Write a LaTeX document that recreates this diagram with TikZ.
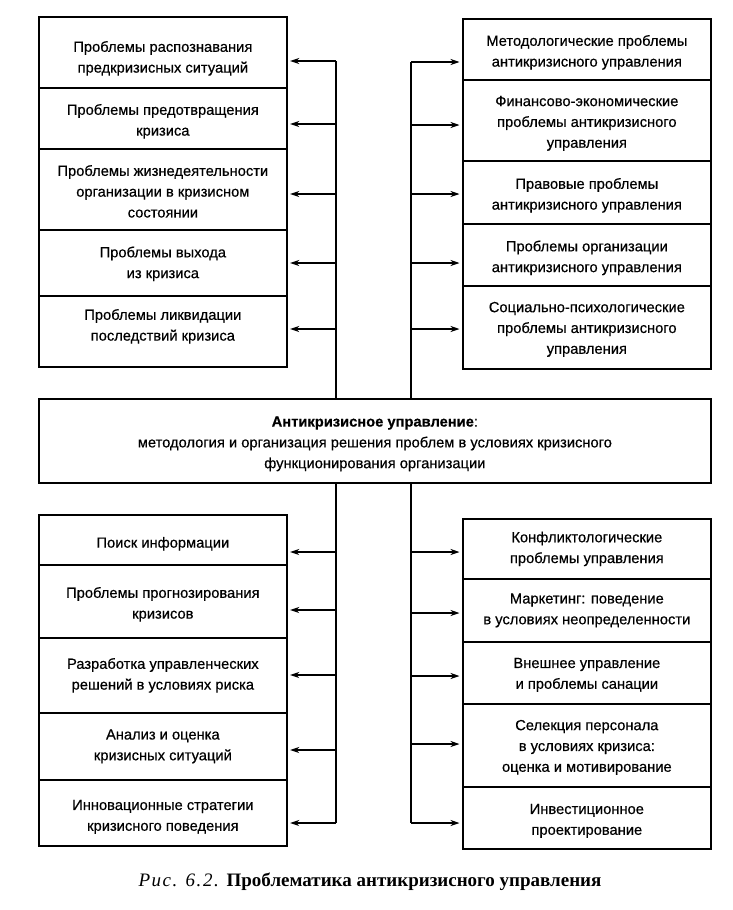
\documentclass[tikz,border=0pt]{standalone}
\usepackage{fontspec}
\setmainfont{Liberation Sans}[FakeBold=0.5]
\newfontfamily\capfont{Liberation Serif}
\newfontfamily\capit{Liberation Serif Italic}[LetterSpace=8]
\usetikzlibrary{arrows.meta}
\newcommand\bx[6]{%
  \node[box, minimum width=#3, minimum height=#4] (#1) at (#2) {};
  \node[txt, yshift=#5] (#1t) at (#1.center) {#6};}
\begin{document}
\begin{tikzpicture}[x=1pt,y=-1pt,
  box/.style={draw, line width=1.7pt, inner sep=0pt, anchor=north west},
  txt/.style={align=center, inner sep=0pt, font=\fontsize{14.7}{20.8}\selectfont},
  conn/.style={line width=1.2pt},
  arr/.style={line width=1.2pt, -{Stealth[length=9pt,width=6pt]}, shorten >=2.5pt}]
\useasboundingbox (0,0) rectangle (733,910);
% top left column
\bx{L1}{38,16}{248pt}{71pt}{-6pt}{Проблемы распознавания\\предкризисных ситуаций}
\bx{L2}{38,87}{248pt}{61pt}{-3pt}{Проблемы предотвращения\\кризиса}
\bx{L3}{38,148}{248pt}{81pt}{-2pt}{Проблемы жизнедеятельности\\организации в кризисном\\состоянии}
\bx{L4}{38,229}{248pt}{66pt}{-1pt}{Проблемы выхода\\из кризиса}
\bx{L5}{38,295}{248pt}{71pt}{5pt}{Проблемы ликвидации\\последствий кризиса}
% top right column
\bx{R1}{462,18}{248pt}{61pt}{-3pt}{Методологические проблемы\\антикризисного управления}
\bx{R2}{462,79}{248pt}{81pt}{-3pt}{Финансово-экономические\\проблемы антикризисного\\управления}
\bx{R3}{462,160}{248pt}{63pt}{-3pt}{Правовые проблемы\\антикризисного управления}
\bx{R4}{462,223}{248pt}{62pt}{-3pt}{Проблемы организации\\антикризисного управления}
\bx{R5}{462,285}{248pt}{83pt}{-2pt}{Социально-психологические\\проблемы антикризисного\\управления}
% centre
\bx{C}{38,398}{672pt}{84pt}{-3pt}{\textbf{Антикризисное управление}:\\методология и организация решения проблем в условиях кризисного\\функционирования организации}
% bottom left column
\bx{LB1}{38,514}{248pt}{50pt}{-4pt}{Поиск информации}
\bx{LB2}{38,564}{248pt}{73pt}{-3pt}{Проблемы прогнозирования\\кризисов}
\bx{LB3}{38,637}{248pt}{75pt}{0pt}{Разработка управленческих\\решений в условиях риска}
\bx{LB4}{38,712}{248pt}{67pt}{0pt}{Анализ и оценка\\кризисных ситуаций}
\bx{LB5}{38,779}{248pt}{66pt}{-4pt}{Инновационные стратегии\\кризисного поведения}
% bottom right column
\bx{RB1}{462,518}{248pt}{60pt}{0pt}{Конфликтологические\\проблемы управления}
\bx{RB2}{462,578}{248pt}{63pt}{0pt}{Маркетинг: поведение\\в условиях неопределенности}
\bx{RB3}{462,641}{248pt}{62pt}{-2pt}{Внешнее управление\\и проблемы санации}
\bx{RB4}{462,703}{248pt}{83pt}{-2pt}{Селекция персонала\\в условиях кризиса:\\оценка и мотивирование}
\bx{RB5}{462,786}{248pt}{62pt}{-3pt}{Инвестиционное\\проектирование}
% trunk points
\coordinate (a1) at (336,61);  \coordinate (a2) at (336,124); \coordinate (a3) at (336,194);
\coordinate (a4) at (336,263); \coordinate (a5) at (336,329);
\coordinate (b1) at (411,62);  \coordinate (b2) at (411,125); \coordinate (b3) at (411,194);
\coordinate (b4) at (411,263); \coordinate (b5) at (411,329);
\coordinate (c1) at (336,552); \coordinate (c2) at (336,610); \coordinate (c3) at (336,675);
\coordinate (c4) at (336,750); \coordinate (c5) at (336,823);
\coordinate (d1) at (411,552); \coordinate (d2) at (411,613); \coordinate (d3) at (411,676);
\coordinate (d4) at (411,744); \coordinate (d5) at (411,823);
% trunks
\draw[conn] (C.north -| a1) -- (a1);
\draw[conn] (C.north -| b1) -- (b1);
\draw[conn] (C.south -| c1) -- (c5);
\draw[conn] (C.south -| d1) -- (d5);
% arrows
\foreach \i in {1,...,5}{
  \draw[arr] (a\i) -- (a\i -| L\i.east);
  \draw[arr] (b\i) -- (b\i -| R\i.west);
  \draw[arr] (c\i) -- (c\i -| LB\i.east);
  \draw[arr] (d\i) -- (d\i -| RB\i.west);
}
% caption
\node[font=\capfont\fontsize{19}{22}\selectfont] (cap) at (370,882) {{\capit Рис. 6.2.} \textbf{Проблематика антикризисного управления}};
\end{tikzpicture}
\end{document}
